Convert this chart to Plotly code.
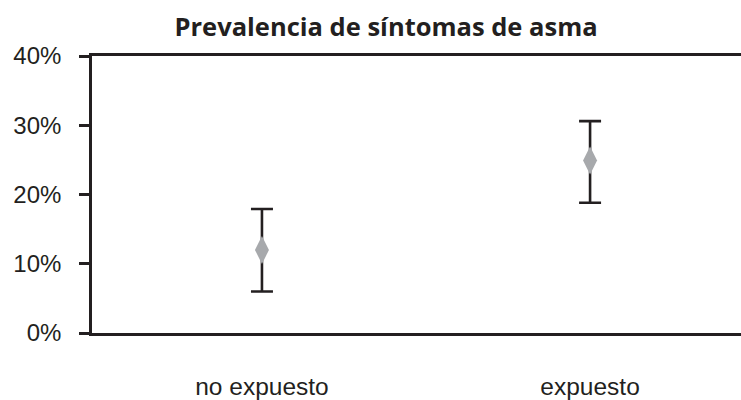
import plotly.graph_objects as go

# Prevalence of asthma symptoms with 95% confidence intervals
groups = ["no expuesto", "expuesto"]
prevalence = [12.0, 24.9]      # percent
ci_lower = [6.0, 18.8]         # percent
ci_upper = [17.9, 30.6]        # percent
y_ticks = [0, 10, 20, 30, 40]
y_tick_text = ["0%", "10%", "20%", "30%", "40%"]

err_plus = [u - p for u, p in zip(ci_upper, prevalence)]
err_minus = [p - l for p, l in zip(prevalence, ci_lower)]

ink = "#231f20"

fig = go.Figure(
    go.Scatter(
        x=groups,
        y=prevalence,
        mode="markers",
        marker=dict(symbol="diamond-tall", size=20, color="#a7a9ac",
                    line=dict(width=0)),
        error_y=dict(type="data", symmetric=False, array=err_plus,
                     arrayminus=err_minus, color=ink, thickness=2.6, width=11),
        showlegend=False,
    )
)

fig.update_layout(
    width=741,
    height=400,
    margin=dict(l=92, r=0, t=56, b=67),
    paper_bgcolor="white",
    plot_bgcolor="white",
    title=dict(
        text="<b>Prevalencia de síntomas de asma</b>",
        x=0.521, xanchor="center", y=0.933, yanchor="middle",
        font=dict(family="Open Sans", size=25.5, color=ink, weight=800),
    ),
)

fig.update_xaxes(
    range=[-0.518, 1.46],
    automargin=False,
    showline=True, linecolor=ink, linewidth=2.6, mirror=True,
    showgrid=False, zeroline=False, ticks="",
    ticklabelstandoff=30,
    tickfont=dict(family="Liberation Sans, Arial", size=24.5, color=ink),
)

fig.update_yaxes(
    range=[0, 40],
    automargin=False,
    tickvals=y_ticks, ticktext=y_tick_text,
    showline=True, linecolor=ink, linewidth=2.6,
    showgrid=False, zeroline=False,
    ticks="outside", ticklen=10, tickwidth=2.6, tickcolor=ink,
    ticklabelstandoff=13,
    tickfont=dict(family="Liberation Sans, Arial", size=24, color=ink),
)

fig.write_html("out.html")
